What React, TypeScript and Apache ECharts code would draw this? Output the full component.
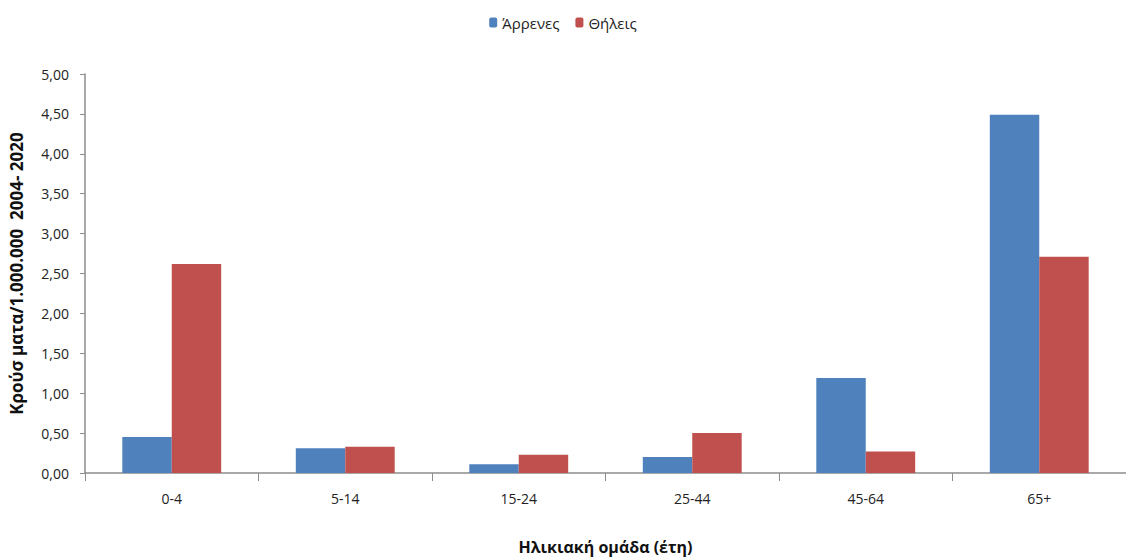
import React, { useEffect, useRef } from "react";
import * as echarts from "echarts";

const categories = ["0-4", "5-14", "15-24", "25-44", "45-64", "65+"];
const maleValues = [0.45, 0.31, 0.11, 0.2, 1.19, 4.49];
const femaleValues = [2.62, 0.33, 0.23, 0.5, 0.27, 2.71];
const seriesNames = ["Άρρενες", "Θήλεις"];
const yAxisTitle = "Κρούσ ματα/1.000.000  2004- 2020";
const xAxisTitle = "Ηλικιακή ομάδα (έτη)";

const FONT = "'Open Sans', sans-serif";

export default function App() {
  const ref = useRef<HTMLDivElement>(null);
  useEffect(() => {
    document.body.style.margin = "0";
    const chart = echarts.init(ref.current!, null, { renderer: "svg" });
    chart.setOption({
      animation: false,
      textStyle: { fontFamily: FONT },
      legend: {
        top: 10,
        left: "center",
        itemWidth: 8,
        itemHeight: 10,
        itemGap: 16,
        textStyle: { fontSize: 15, color: "#222", fontFamily: FONT },
        data: seriesNames,
      },
      grid: { left: 82, right: -5, top: 74, bottom: 82, containLabel: false },
      xAxis: {
        type: "category",
        data: categories,
        name: xAxisTitle,
        nameLocation: "middle",
        nameGap: 66,
        nameTextStyle: { fontSize: 16, fontWeight: "bold", color: "#111", fontFamily: FONT },
        axisLine: { lineStyle: { color: "#8c8c8c", width: 1.5 } },
        axisTick: { show: true, length: 8, lineStyle: { color: "#8c8c8c" } },
        axisLabel: { fontSize: 14, color: "#222", margin: 18, fontFamily: FONT },
      },
      yAxis: {
        type: "value",
        min: 0,
        max: 5,
        interval: 0.5,
        name: yAxisTitle,
        nameLocation: "middle",
        nameGap: 60,
        nameTextStyle: { fontSize: 17, fontWeight: "bold", color: "#111", fontFamily: FONT },
        axisLine: { show: true, lineStyle: { color: "#8c8c8c", width: 1.5 } },
        axisTick: { show: true, length: 5, lineStyle: { color: "#8c8c8c" } },
        splitLine: { show: false },
        axisLabel: {
          fontSize: 14,
          color: "#222",
          margin: 16,
          fontFamily: FONT,
          formatter: (v: number) => v.toFixed(2).replace(".", ","),
        },
      },
      series: [
        {
          name: seriesNames[0],
          type: "bar",
          data: maleValues,
          barGap: "0%",
          barCategoryGap: "43%",
          itemStyle: { color: "#4F81BD" },
        },
        {
          name: seriesNames[1],
          type: "bar",
          data: femaleValues,
          barGap: "0%",
          barCategoryGap: "43%",
          itemStyle: { color: "#C0504D" },
        },
      ],
    });
    return () => chart.dispose();
  }, []);
  return <div ref={ref} style={{ width: 1126, height: 560 }} />;
}
